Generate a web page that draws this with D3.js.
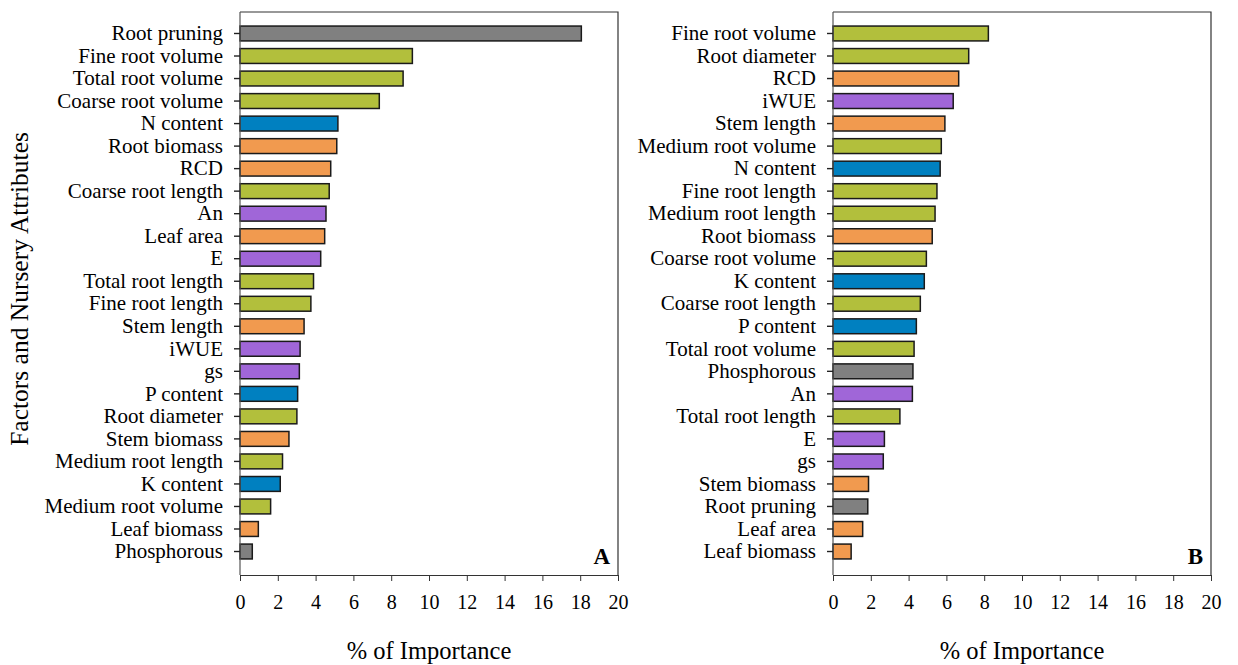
<!DOCTYPE html>
<html>
<head>
<meta charset="utf-8">
<script src="https://cdn.jsdelivr.net/npm/d3@7"></script>
<style>
  body { margin: 0; background: #fff; }
  svg text { font-family: "Liberation Serif", "Times New Roman", serif; fill: #000; }
</style>
</head>
<body>
<div id="chart"></div>
<script>
// panel A data (sorted as in the figure, top to bottom)
var namesA = ["Root pruning", "Fine root volume", "Total root volume", "Coarse root volume", "N content",
  "Root biomass", "RCD", "Coarse root length", "An", "Leaf area", "E", "Total root length",
  "Fine root length", "Stem length", "iWUE", "gs", "P content", "Root diameter", "Stem biomass",
  "Medium root length", "K content", "Medium root volume", "Leaf biomass", "Phosphorous"];
var valuesA = [18.06, 9.12, 8.63, 7.37, 5.18, 5.12, 4.8, 4.72, 4.55, 4.48, 4.27, 3.89,
  3.75, 3.39, 3.18, 3.14, 3.05, 3.01, 2.59, 2.25, 2.13, 1.62, 0.97, 0.65];

// panel B data
var namesB = ["Fine root volume", "Root diameter", "RCD", "iWUE", "Stem length", "Medium root volume",
  "N content", "Fine root length", "Medium root length", "Root biomass", "Coarse root volume",
  "K content", "Coarse root length", "P content", "Total root volume", "Phosphorous", "An",
  "Total root length", "E", "gs", "Stem biomass", "Root pruning", "Leaf area", "Leaf biomass"];
var valuesB = [8.22, 7.18, 6.65, 6.36, 5.92, 5.73, 5.67, 5.5, 5.4, 5.25, 4.94,
  4.83, 4.62, 4.41, 4.29, 4.23, 4.2, 3.54, 2.72, 2.66, 1.88, 1.84, 1.57, 0.96];

var xTicks = [0, 2, 4, 6, 8, 10, 12, 14, 16, 18, 20];

// attribute group of each variable -> colour
var groupOf = {
  "Root pruning": "factor", "Phosphorous": "factor",
  "N content": "nutrient", "P content": "nutrient", "K content": "nutrient",
  "An": "gas", "E": "gas", "iWUE": "gas", "gs": "gas",
  "Root biomass": "morph", "RCD": "morph", "Leaf area": "morph", "Stem length": "morph",
  "Stem biomass": "morph", "Leaf biomass": "morph"
};
var groupColor = {
  factor: "#808080", nutrient: "#0080c0", gas: "#a066d8", morph: "#f19a4f", root: "#b2bf3c"
};
function barColor(name) {
  return groupColor[groupOf[name] || "root"];
}

var W = 1238, H = 665;
var svg = d3.select("#chart").append("svg")
    .attr("width", W)
    .attr("height", H);

var yTop = 12, yBottom = 575;

function panel(names, values, left, right, letter) {
  var g = svg.append("g");

  var x = d3.scaleLinear().domain([0, 20]).range([left, right]);
  var y = d3.scaleBand().domain(names).range([yTop + 10, yBottom - 12]).paddingInner(0.34).paddingOuter(0.18);

  // box (top and right edges)
  g.append("path")
    .attr("d", "M" + left + "," + yTop + "H" + right + "V" + yBottom)
    .attr("fill", "none")
    .attr("stroke", "#333")
    .attr("stroke-width", 1.2);

  // bars
  g.selectAll("rect.bar")
    .data(names)
    .enter().append("rect")
    .attr("class", "bar")
    .attr("x", x(0))
    .attr("y", function(d) { return y(d); })
    .attr("width", function(d, i) { return x(values[i]) - x(0); })
    .attr("height", y.bandwidth())
    .attr("fill", function(d) { return barColor(d); })
    .attr("stroke", "#1a1a1a")
    .attr("stroke-width", 1.5);

  // x axis
  var xa = g.append("g")
    .attr("transform", "translate(0," + yBottom + ")")
    .call(d3.axisBottom(x).tickValues(xTicks).tickSize(6).tickPadding(14).tickSizeOuter(0));
  xa.select(".domain").attr("stroke", "#333").attr("stroke-width", 1.2);
  xa.selectAll(".tick line").attr("stroke", "#333");
  xa.selectAll("text").style("font-size", "20px").style("font-family", '"Liberation Serif", serif');

  // y axis
  var ya = g.append("g")
    .attr("transform", "translate(" + left + ",0)")
    .call(d3.axisLeft(y).tickSize(6).tickPadding(11).tickSizeOuter(0));
  ya.select(".domain").attr("stroke", "#555").attr("stroke-width", 1.2)
    .attr("d", "M0," + yTop + "V" + yBottom);
  ya.selectAll(".tick line").attr("stroke", "#222").attr("stroke-width", 1.4);
  ya.selectAll("text").style("font-size", "21px").style("font-family", '"Liberation Serif", serif');

  // x title
  g.append("text")
    .attr("x", (left + right) / 2)
    .attr("y", 659)
    .attr("text-anchor", "middle")
    .style("font-size", "24.5px")
    .text("% of Importance");

  // panel letter
  g.append("text")
    .attr("x", right - 8)
    .attr("y", 564)
    .attr("text-anchor", "end")
    .style("font-size", "23px")
    .style("font-weight", "bold")
    .text(letter);
}

panel(namesA, valuesA, 240, 618, "A");
panel(namesB, valuesB, 833, 1211, "B");

// shared y title
svg.append("text")
  .attr("transform", "translate(28,289) rotate(-90)")
  .attr("text-anchor", "middle")
  .style("font-size", "25.5px")
  .text("Factors and Nursery Attributes");
</script>
</body>
</html>
